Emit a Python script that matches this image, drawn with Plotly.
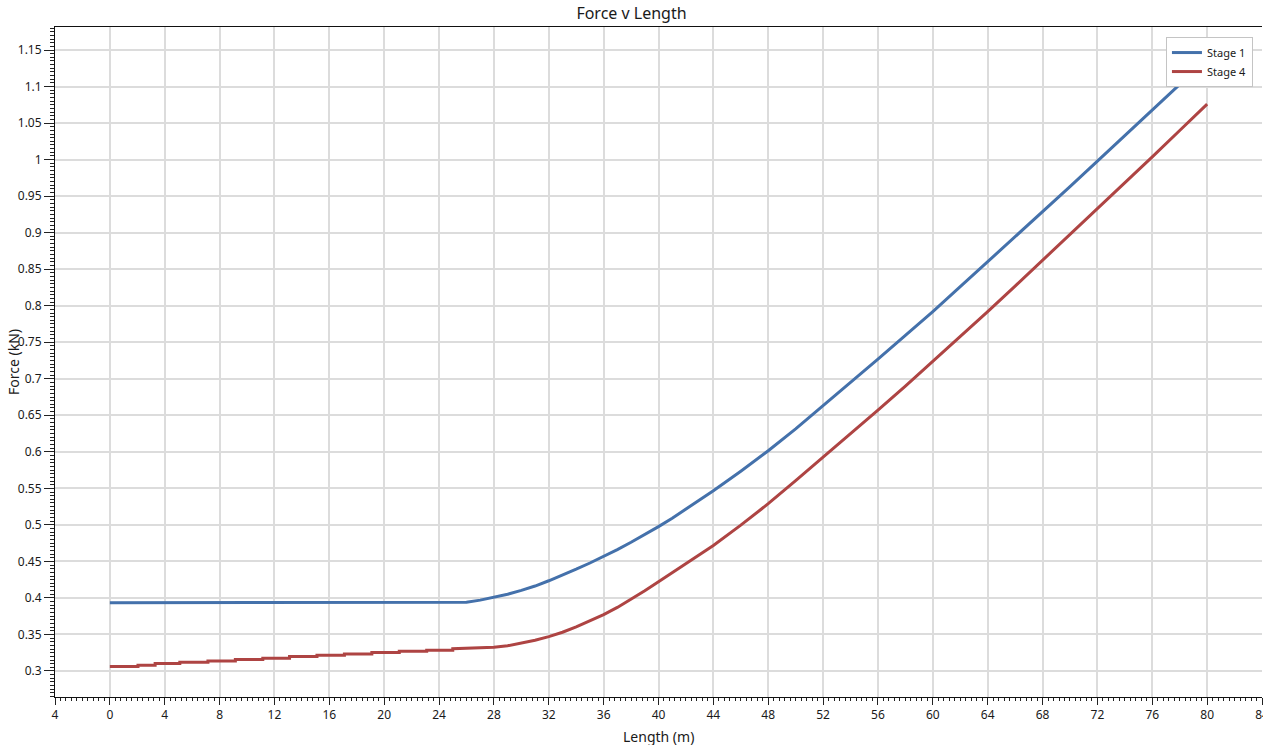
import plotly.graph_objects as go

# ---------------- data ----------------
stage1_x = [0, 25, 26, 27, 28, 29, 30, 31, 32, 33, 34, 35, 36, 37, 38, 39, 40, 41, 42,
            44, 46, 48, 50, 52, 54, 56, 58, 60, 62, 64, 66, 68, 70, 72, 74, 76, 78, 80]
stage1_y = [0.3935, 0.3935, 0.3942, 0.397, 0.4005, 0.405, 0.4103, 0.4163, 0.4235,
            0.4312, 0.4393, 0.4478, 0.4567, 0.4662, 0.4762, 0.4867, 0.4976, 0.5092,
            0.5213, 0.5466, 0.5735, 0.6015, 0.6315, 0.663, 0.695, 0.727, 0.7595,
            0.792, 0.826, 0.860, 0.894, 0.928, 0.963, 0.998, 1.033, 1.068, 1.103, 1.138]

# Stage 4: stepped start (tread start x, tread level), then smooth rise
stage4_step_x = [0, 2.05, 3.3, 5.1, 7.15, 9.15, 11.15, 13.1, 15.1, 17.1, 19.1, 21.1, 23.1, 25.0]
stage4_step_y = [0.306, 0.3078, 0.3101, 0.3119, 0.3137, 0.3156, 0.3174, 0.3197, 0.3215,
                 0.3233, 0.3252, 0.327, 0.3283, 0.3305]
stage4_curve_x = [27, 28, 29, 30, 31, 32, 33, 34, 35, 36, 37, 38, 39, 40, 41, 42, 44, 46,
                  48, 50, 52, 54, 56, 58, 60, 62, 64, 66, 68, 70, 72, 74, 76, 78, 80]
stage4_curve_y = [0.3315, 0.3325, 0.3345, 0.3378, 0.342, 0.347, 0.353, 0.3603, 0.3683,
                  0.3772, 0.387, 0.398, 0.4098, 0.422, 0.4342, 0.4465, 0.4718, 0.4997,
                  0.529, 0.5605, 0.5925, 0.6245, 0.657, 0.690, 0.7235, 0.7575, 0.7918,
                  0.8268, 0.862, 0.8972, 0.9325, 0.968, 1.0038, 1.0398, 1.076]

x_tickvals = [-4, 0, 4, 8, 12, 16, 20, 24, 28, 32, 36, 40, 44, 48, 52, 56, 60, 64, 68, 72, 76, 80, 84]
x_ticktext = ["4", "0", "4", "8", "12", "16", "20", "24", "28", "32", "36", "40", "44", "48",
              "52", "56", "60", "64", "68", "72", "76", "80", "84"]
y_tickvals = [0.3, 0.35, 0.4, 0.45, 0.5, 0.55, 0.6, 0.65, 0.7, 0.75, 0.8, 0.85, 0.9,
              0.95, 1.0, 1.05, 1.1, 1.15]
y_ticktext = ["0.3", "0.35", "0.4", "0.45", "0.5", "0.55", "0.6", "0.65", "0.7", "0.75",
              "0.8", "0.85", "0.9", "0.95", "1", "1.05", "1.1", "1.15"]

# build stepped stage 4 series
x4, y4 = [], []
for i, (sx, sy) in enumerate(zip(stage4_step_x, stage4_step_y)):
    x4.append(sx)
    y4.append(sy)
    if i + 1 < len(stage4_step_x):
        x4.append(stage4_step_x[i + 1])
        y4.append(sy)
x4 += stage4_curve_x
y4 += stage4_curve_y

FONT = "Noto Sans"
XR = [-4, 84]
YR = [0.2644, 1.1815]
W, H = 1263, 745
ML, MR, MT, MB = 55, 1, 27, 48
PW, PH = W - ML - MR, H - MT - MB

fig = go.Figure()
fig.add_trace(go.Scatter(x=stage1_x, y=stage1_y, mode="lines", name="Stage 1",
                         line=dict(color="#4471AB", width=3)))
fig.add_trace(go.Scatter(x=x4, y=y4, mode="lines", name="Stage 4",
                         line=dict(color="#AE4443", width=3)))

fig.update_layout(
    width=W, height=H, autosize=False,
    margin=dict(l=ML, r=MR, t=MT, b=MB, autoexpand=False),
    paper_bgcolor="white", plot_bgcolor="white",
    font=dict(family=FONT, size=12, color="#1a1a1a"),
    title=dict(text="Force v Length", x=0.5, xanchor="center", y=1 - 13 / H,
               yanchor="middle", yref="container",
               font=dict(family=FONT, size=16, color="#1a1a1a")),
    showlegend=True,
    legend=dict(x=0.9925, xanchor="right", y=0.985, yanchor="top",
                bgcolor="white", bordercolor="#c4c4c4", borderwidth=1,
                font=dict(family=FONT, size=11, color="#1a1a1a"),
                itemwidth=30, tracegroupgap=0),
    xaxis=dict(range=XR, tickmode="array", tickvals=x_tickvals, ticktext=x_ticktext,
               ticks="outside", ticklen=7, tickcolor="#222", tickwidth=1,
               showline=True, linecolor="#111", linewidth=1, mirror=True,
               showgrid=True, gridcolor="#dcdcdc", gridwidth=1.6, zeroline=False,
               automargin=False, ticklabeloverflow="allow",
               minor=dict(dtick=0.4, tick0=0, ticks="outside", ticklen=3,
                          tickcolor="#222", showgrid=False),
               tickfont=dict(family=FONT, size=12)),
    yaxis=dict(range=YR, tickmode="array", tickvals=y_tickvals, ticktext=y_ticktext,
               ticks="outside", ticklen=10, tickcolor="#222", tickwidth=1,
               showline=True, linecolor="#111", linewidth=1,
               showgrid=True, gridcolor="#dcdcdc", gridwidth=1.6, zeroline=False,
               automargin=False,
               minor=dict(dtick=0.005, tick0=0, ticks="outside", ticklen=4,
                          tickcolor="#222", showgrid=False),
               tickfont=dict(family=FONT, size=12)),
    xaxis2=dict(overlaying="x", anchor="y", side="bottom", range=XR,
                tickmode="linear", tick0=0, dtick=2, ticks="outside", ticklen=5,
                tickcolor="#222", showticklabels=False, showgrid=False,
                zeroline=False, showline=False, automargin=False),
    yaxis2=dict(overlaying="y", anchor="x", side="left", range=YR,
                tickmode="linear", tick0=0, dtick=0.025, ticks="outside", ticklen=7,
                tickcolor="#222", showticklabels=False, showgrid=False,
                zeroline=False, showline=False, automargin=False),
    annotations=[
        dict(text="Length (m)", xref="paper", yref="paper", x=0.5, y=-(736 - (H - MB)) / PH,
             xanchor="center", yanchor="middle", showarrow=False,
             font=dict(family=FONT, size=14, color="#1a1a1a")),
        dict(text="Force (kN)", xref="paper", yref="paper", x=-(ML - 13) / PW, y=0.5,
             xanchor="center", yanchor="middle", textangle=-90, showarrow=False,
             font=dict(family=FONT, size=14, color="#1a1a1a")),
    ],
)

fig.write_html("out.html", config={"displayModeBar": False},
               post_script="document.body.style.margin='0px';")
